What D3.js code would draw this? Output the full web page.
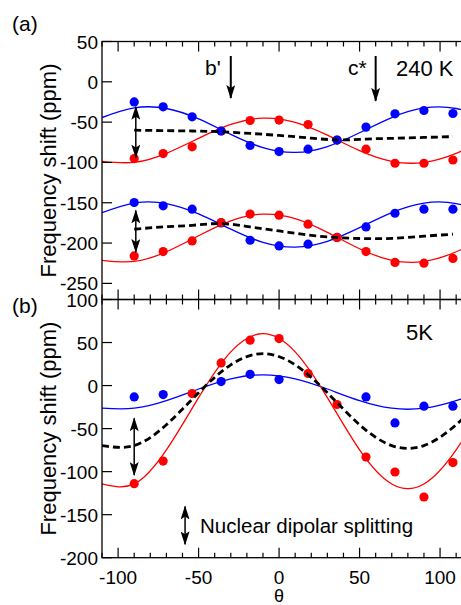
<!DOCTYPE html>
<html>
<head>
<meta charset="utf-8">
<script src="https://cdn.jsdelivr.net/npm/d3@7"></script>
<style>
  body { margin: 0; background: #fff; }
  svg { display: block; font-family: "Liberation Sans", Arial, sans-serif; }
</style>
</head>
<body>
<div id="chart"></div>
<script>
// measured angles (deg)
var theta = [-90, -72, -54, -36, -18, 0, 18, 36, 54, 72, 90, 108];

// (a) 240 K, upper pair
var blueA1 = [-25, -31, -43.4, -61, -79, -86.5, -83.5, -72.3, -56.2, -39.7, -35.6, -39.3];
var redA1 = [-95.2, -89, -80.6, -61, -48, -47.5, -53, -72.3, -83.5, -101, -101, -97];
var dashA1 = [-60, -60.5, -61, -62, -64, -66.5, -69.5, -72, -71, -70, -69, -68];
// (a) 240 K, lower pair
var blueA2 = [-149.7, -153.8, -158, -175, -196.5, -203.5, -201.4, -193, -180, -163, -158, -158];
var redA2 = [-215.9, -210.5, -197.3, -174.5, -164, -165.4, -176.6, -193.2, -210.5, -224, -225, -219];
var dashA2 = [-182.8, -180, -178, -175.8, -180, -185, -190, -193.2, -194.5, -194, -191.5, -189];

// (b) 5 K
var thetaBlueB = [-90, -72, -36, -18, 0, 54, 72, 90, 108];
var blueB = [-13.2, -10.5, 4.6, 13.1, 7, -13.2, -43.4, -24, -24];
var redB = [-114, -87.7, -9.3, 26.3, 52.7, 54.6, 14, -22, -83, -100.4, -129.5, -89.5];

// fitted curves, read every 20 deg
var fitTheta = [-110, -90, -70, -50, -30, -10, 10, 30, 50, 70, 90, 110, 130];
var blueA1Fit = [-44.3, -32.4, -33.1, -46, -65.2, -81.6, -87.6, -80.3, -63.2, -44.3, -32.4, -33.1, -46];
var redA1Fit = [-98.6, -99.9, -88.7, -70.1, -52.9, -45.1, -50.3, -66.2, -85.3, -98.6, -99.9, -88.7, -70.1];
var blueA2Fit = [-162.2, -150.4, -151, -163.9, -182.8, -199.1, -205, -197.8, -180.9, -162.2, -150.4, -151, -163.9];
var redA2Fit = [-221.4, -222.8, -210.8, -190.9, -172.4, -164.1, -169.7, -186.7, -207.1, -221.4, -222.8, -210.8, -190.9];
var blueBFit = [-26.3, -26.3, -17.5, -4, 7.8, 12.5, 7.8, -4, -17.5, -26.3, -26.3, -17.5, -4];
var redBFit = [-114.3, -114.3, -74.7, -14, 39.2, 60.3, 39.2, -14, -74.7, -114.3, -114.3, -74.7, -14];
var dashBFit = [-69.7, -69.7, -45.5, -8.4, 24.1, 37, 24.1, -8.4, -45.5, -69.7, -69.7, -45.5, -8.4];

// axes
var xMajor = [-100, -50, 0, 50, 100];
var xMinor = [-110, -90, -80, -70, -60, -40, -30, -20, -10, 10, 20, 30, 40, 60, 70, 80, 90, 110];
var yTicksA = [50, 0, -50, -100, -150, -200, -250];
var yTicksB = [100, 50, 0, -50, -100, -150, -200];

var W = 461, H = 605;
var svg = d3.select("#chart").append("svg")
  .attr("width", W).attr("height", H);

var defs = svg.append("defs");
defs.append("marker")
  .attr("id", "head")
  .attr("viewBox", "0 -4.5 14 9")
  .attr("refX", 13).attr("refY", 0)
  .attr("markerUnits", "userSpaceOnUse")
  .attr("markerWidth", 14).attr("markerHeight", 9)
  .attr("orient", "auto-start-reverse")
  .append("path").attr("d", "M0,-4.5L14,0L0,4.5L3,0Z").attr("fill", "#000");

var x = d3.scaleLinear().domain([-110, 115]).range([102, 464.2]);

function pairs(xs, ys) {
  return xs.map(function(t, i) { return [t, ys[i]]; });
}

function buildPanel(id, yDomain, yRange, yTicks) {
  var y = d3.scaleLinear().domain(yDomain).range(yRange);
  var g = svg.append("g");

  defs.append("clipPath").attr("id", "clip" + id)
    .append("rect")
    .attr("x", x.range()[0]).attr("y", yRange[0])
    .attr("width", x.range()[1] - x.range()[0])
    .attr("height", yRange[1] - yRange[0]);

  var plot = g.append("g").attr("clip-path", "url(#clip" + id + ")");

  // frame
  g.append("rect")
    .attr("x", x.range()[0]).attr("y", yRange[0])
    .attr("width", x.range()[1] - x.range()[0])
    .attr("height", yRange[1] - yRange[0])
    .attr("fill", "none").attr("stroke", "#000").attr("stroke-width", 1.3);

  // x ticks, inward on top and bottom
  var top = yRange[0], bot = yRange[1];
  xMajor.concat(xMinor).forEach(function(t) {
    var len = xMajor.indexOf(t) >= 0 ? 10 : 5;
    g.append("line").attr("x1", x(t)).attr("x2", x(t))
      .attr("y1", bot).attr("y2", bot - len)
      .attr("stroke", "#000").attr("stroke-width", 1.2);
    g.append("line").attr("x1", x(t)).attr("x2", x(t))
      .attr("y1", top).attr("y2", top + len)
      .attr("stroke", "#000").attr("stroke-width", 1.2);
  });

  // y ticks + labels
  yTicks.forEach(function(v) {
    g.append("line").attr("x1", x.range()[0]).attr("x2", x.range()[0] + 10)
      .attr("y1", y(v)).attr("y2", y(v))
      .attr("stroke", "#000").attr("stroke-width", 1.2);
    g.append("text").attr("x", x.range()[0] - 4).attr("y", y(v) + 7)
      .attr("text-anchor", "end").attr("font-size", 19)
      .text(v);
  });

  g.append("text")
    .attr("transform", "translate(56," + (yRange[0] + yRange[1]) / 2 + ") rotate(-90)")
    .attr("text-anchor", "middle").attr("font-size", 22)
    .text("Frequency shift (ppm)");

  return { g: g, plot: plot, y: y };
}

function curve(p, xs, ys, color, width, dash) {
  var line = d3.line()
    .x(function(d) { return x(d[0]); })
    .y(function(d) { return p.y(d[1]); })
    .curve(d3.curveNatural);
  var path = p.plot.append("path")
    .datum(pairs(xs, ys))
    .attr("d", line)
    .attr("fill", "none")
    .attr("stroke", color)
    .attr("stroke-width", width);
  if (dash) path.attr("stroke-dasharray", dash);
}

function dots(p, xs, ys, color) {
  p.plot.selectAll(null)
    .data(pairs(xs, ys))
    .enter().append("circle")
    .attr("cx", function(d) { return x(d[0]); })
    .attr("cy", function(d) { return p.y(d[1]); })
    .attr("r", 4.6)
    .attr("fill", color);
}

function arrow(p, t, v1, v2, width, both) {
  var l = p.g.append("line")
    .attr("x1", x(t)).attr("x2", x(t))
    .attr("y1", p.y(v1)).attr("y2", p.y(v2))
    .attr("stroke", "#000").attr("stroke-width", width)
    .attr("marker-end", "url(#head)");
  if (both) l.attr("marker-start", "url(#head)");
}

// ---- panel (a) ----
var pa = buildPanel("a", [50, -270], [41.5, 299.5], yTicksA);
curve(pa, fitTheta, redA1Fit, "#ff0000", 1.3);
curve(pa, fitTheta, blueA1Fit, "#0000ff", 1.3);
curve(pa, fitTheta, blueA2Fit, "#0000ff", 1.3);
curve(pa, fitTheta, redA2Fit, "#ff0000", 1.3);
dots(pa, theta, redA1, "#ff0000");
dots(pa, theta, blueA1, "#0000ff");
dots(pa, theta, blueA2, "#0000ff");
dots(pa, theta, redA2, "#ff0000");
curve(pa, theta, dashA1, "#000", 2.8, "7,4");
curve(pa, theta, dashA2, "#000", 2.8, "7,4");
arrow(pa, -89, -31, -94, 1.5, true);
arrow(pa, -89, -159.5, -211, 1.5, true);
arrow(pa, -30, 32, -20, 2, false);
arrow(pa, 60, 32, -23.6, 2, false);
pa.g.append("text").attr("x", 205).attr("y", 75).attr("font-size", 21).text("b'");
pa.g.append("text").attr("x", 348).attr("y", 75).attr("font-size", 21).text("c*");
pa.g.append("text").attr("x", 396).attr("y", 76).attr("font-size", 22).text("240 K");
svg.append("text").attr("x", 12).attr("y", 31).attr("font-size", 21).text("(a)");

// ---- panel (b) ----
var pb = buildPanel("b", [100, -200], [299.5, 557.7], yTicksB);
curve(pb, fitTheta, blueBFit, "#0000ff", 1.3);
curve(pb, fitTheta, redBFit, "#ff0000", 1.3);
dots(pb, thetaBlueB, blueB, "#0000ff");
dots(pb, theta, redB, "#ff0000");
curve(pb, fitTheta, dashBFit, "#000", 2.8, "7,4");
arrow(pb, -90, -38, -104, 1.5, true);
arrow(pb, -58.4, -140.5, -184.5, 1.5, true);
pb.g.append("text").attr("x", 200).attr("y", 533).attr("font-size", 20.5).text("Nuclear dipolar splitting");
pb.g.append("text").attr("x", 406).attr("y", 340).attr("font-size", 22).text("5K");
svg.append("text").attr("x", 12).attr("y", 313).attr("font-size", 21).text("(b)");

// x tick labels on bottom axis only
xMajor.forEach(function(t) {
  svg.append("text").attr("x", x(t)).attr("y", 584)
    .attr("text-anchor", "middle").attr("font-size", 19).text(t);
});
svg.append("text").attr("x", x(0)).attr("y", 602)
  .attr("text-anchor", "middle").attr("font-size", 18).text("θ");
</script>
</body>
</html>
